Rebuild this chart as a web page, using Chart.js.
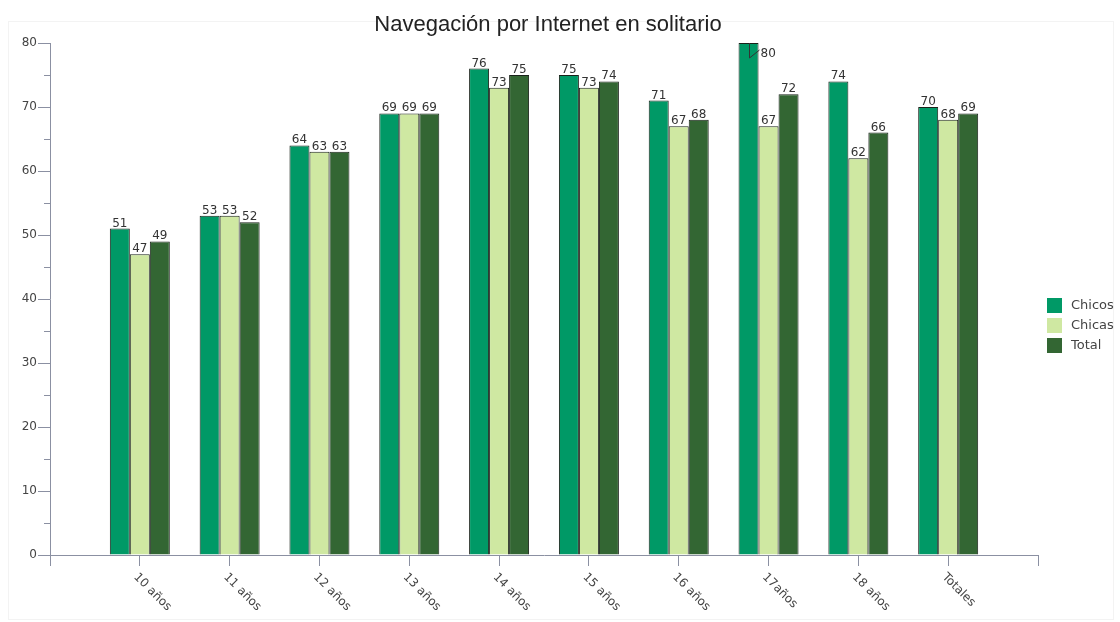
<!DOCTYPE html>
<html lang="es">
<head>
<meta charset="UTF-8" />
<title>Navegación por Internet en solitario</title>
<style>
  body { margin: 0; background: #fff; }
  #frame { position: absolute; left: 8px; top: 21px; width: 1104px; height: 597px; border: 1px solid #f3f3f3; }
  canvas { position: absolute; left: 0; top: 0; }
</style>
</head>
<body>
<div id="frame"></div>
<canvas id="myChart" width="1120" height="622"></canvas>

<script src="https://cdn.jsdelivr.net/npm/chart.js"></script>
<script>
// datos
const categorias = ['10 años', '11 años', '12 años', '13 años', '14 años', '15 años', '16 años', '17años', '18 años', 'Totales'];
const chicos = [51, 53, 64, 69, 76, 75, 71, 80, 74, 70];
const chicas = [47, 53, 63, 69, 73, 73, 67, 67, 62, 68];
const total  = [49, 52, 63, 69, 75, 74, 68, 72, 66, 69];
const yTicks = [0, 10, 20, 30, 40, 50, 60, 70, 80];

const axisColor = '#8b90a2';
const colores = { Chicos: '#009966', Chicas: '#cfe8a2', Total: '#336633' };

// hueco vacío a cada lado, como en el original
const etiquetas = [''].concat(categorias, ['']);
const pad = arr => [null].concat(arr, [null]);

const titlePlugin = {
    id: 'titulo',
    afterDraw(chart) {
        const ctx = chart.ctx;
        ctx.save();
        ctx.font = '22px "Liberation Sans", Arial, sans-serif';
        ctx.fillStyle = '#222';
        ctx.textAlign = 'center';
        ctx.textBaseline = 'middle';
        ctx.fillText('Navegación por Internet en solitario', 548, 25);
        ctx.restore();
    }
};

const axisExtras = {
    id: 'axisExtras',
    afterDraw(chart) {
        const ctx = chart.ctx;
        const y = chart.scales.y, x = chart.scales.x;
        ctx.save();
        // ticks menores del eje y
        ctx.strokeStyle = axisColor;
        ctx.lineWidth = 1;
        for (let v = 5; v < 80; v += 10) {
            const py = Math.round(y.getPixelForValue(v)) + 0.5;
            ctx.beginPath();
            ctx.moveTo(y.right - 6, py);
            ctx.lineTo(y.right, py);
            ctx.stroke();
        }
        // etiquetas del eje x giradas hacia abajo
        ctx.font = '12px "DejaVu Sans", Verdana, sans-serif';
        ctx.fillStyle = '#444';
        ctx.textAlign = 'left';
        ctx.textBaseline = 'top';
        etiquetas.forEach((lab, i) => {
            if (!lab) return;
            const px = x.getPixelForTick(i);
            ctx.save();
            ctx.translate(px, x.top + 16);
            ctx.rotate(Math.PI / 4);
            ctx.fillText(lab, 0, 0);
            ctx.restore();
        });
        // leyenda
        ctx.font = '13px "DejaVu Sans", Verdana, sans-serif';
        ctx.textBaseline = 'middle';
        chart.data.datasets.forEach((ds, i) => {
            const top = 298 + i * 20;
            ctx.fillStyle = ds.backgroundColor;
            ctx.fillRect(1047, top, 15, 15);
            ctx.fillStyle = '#444';
            ctx.fillText(ds.label, 1071, top + 8);
        });
        ctx.restore();
    }
};

const valueLabels = {
    id: 'valueLabels',
    afterDatasetsDraw(chart) {
        const ctx = chart.ctx;
        const area = chart.chartArea;
        ctx.save();
        ctx.font = '12px "DejaVu Sans", Verdana, sans-serif';
        ctx.fillStyle = '#333';
        ctx.strokeStyle = '#333';
        ctx.lineWidth = 1;
        chart.data.datasets.forEach((ds, di) => {
            const meta = chart.getDatasetMeta(di);
            meta.data.forEach((el, i) => {
                const v = ds.data[i];
                if (v === null) return;
                const txt = String(v);
                if (el.y - 15 < area.top) {
                    // no cabe arriba: etiqueta a la derecha con línea guía
                    const cx = Math.round(el.x) + 0.5;
                    ctx.beginPath();
                    ctx.moveTo(cx, el.y);
                    ctx.lineTo(cx, el.y + 15);
                    ctx.lineTo(cx + 10, el.y + 7);
                    ctx.stroke();
                    ctx.textAlign = 'left';
                    ctx.textBaseline = 'alphabetic';
                    ctx.fillText(txt, cx + 11, el.y + 14);
                } else {
                    ctx.textAlign = 'center';
                    ctx.textBaseline = 'alphabetic';
                    ctx.fillText(txt, el.x, el.y - 2);
                }
            });
        });
        ctx.restore();
    }
};

const data = {
    labels: etiquetas,
    datasets: [
        { label: 'Chicos', data: pad(chicos), backgroundColor: colores.Chicos },
        { label: 'Chicas', data: pad(chicas), backgroundColor: colores.Chicas },
        { label: 'Total',  data: pad(total),  backgroundColor: colores.Total }
    ].map(d => Object.assign(d, {
        borderColor: '#1a221a',
        borderWidth: 1,
        categoryPercentage: 0.668,
        barPercentage: 1.0
    }))
};

const config = {
    type: 'bar',
    data: data,
    options: {
        responsive: false,
        animation: false,
        layout: { padding: { top: 43, right: 82, bottom: 0, left: 0 } },
        plugins: {
            legend: { display: false },
            title: { display: false },
            tooltip: { enabled: false }
        },
        scales: {
            x: {
                type: 'category',
                offset: false,
                grid: { offset: false, drawOnChartArea: false, drawTicks: true, tickLength: 11, color: axisColor },
                border: { color: axisColor, width: 1 },
                ticks: { display: false },
                afterFit(scale) { scale.height = 67; }
            },
            y: {
                min: 0,
                max: 80,
                afterBuildTicks(scale) { scale.ticks = yTicks.map(v => ({ value: v })); },
                grid: { drawOnChartArea: false, drawTicks: true, tickLength: 12, color: axisColor },
                border: { color: axisColor, width: 1 },
                ticks: {
                    padding: 1,
                    color: '#444',
                    font: { family: '"DejaVu Sans", Verdana, sans-serif', size: 12 }
                },
                afterFit(scale) { scale.width = 50; }
            }
        }
    },
    plugins: [valueLabels, axisExtras, titlePlugin]
};

const myChart = new Chart(document.getElementById('myChart'), config);
</script>
</body>
</html>
